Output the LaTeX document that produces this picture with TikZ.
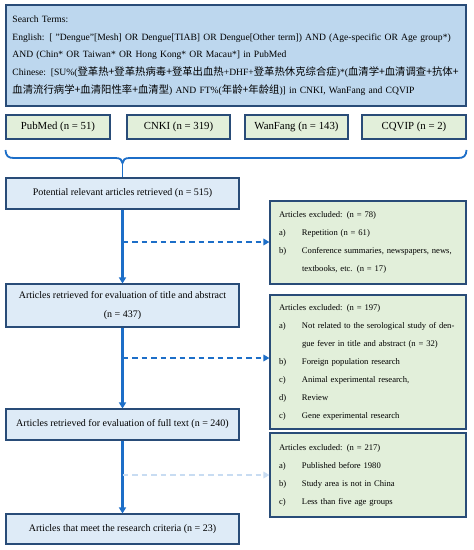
\documentclass[tikz,border=0pt]{standalone}
\usepackage{fontspec}
\setmainfont{Liberation Serif}
\newfontfamily\cjkfont[Scale=1.08]{Noto Sans CJK SC}
\newcommand{\zhtext}[1]{{\cjkfont #1}}
\usetikzlibrary{arrows.meta,calc}
\definecolor{bordc}{RGB}{41,76,120}
\definecolor{searchfill}{RGB}{189,215,238}
\definecolor{mainfill}{RGB}{222,235,247}
\definecolor{greenfill}{RGB}{226,239,218}
\definecolor{arrc}{RGB}{28,110,200}
\definecolor{lightarrc}{RGB}{200,220,242}
\tikzset{
  box/.style={draw=bordc, line width=1.1pt, rectangle, inner sep=0pt},
  searchbox/.style={box, fill=searchfill, align=left, text width=447pt, font=\fontsize{9.6}{17.7}\selectfont},
  srcbox/.style={box, fill=greenfill, minimum height=24pt, font=\fontsize{10.8}{12}\selectfont},
  mainbox/.style={box, fill=mainfill, minimum width=233pt, align=center, font=\fontsize{10}{19}\selectfont},
  exclbox/.style={box, fill=greenfill, minimum width=196pt, align=left, text width=178pt, font=\fontsize{8.6}{18}\selectfont},
  arr/.style={draw=arrc, line width=2.1pt, -{Triangle[length=6pt,width=7pt]}},
  darr/.style={draw=arrc, line width=1.6pt, dash pattern=on 5.5pt off 4pt, -{Triangle[length=6pt,width=6.5pt]}},
  larr/.style={draw=lightarrc, line width=1.6pt, dash pattern=on 5.5pt off 4pt, -{Triangle[length=6pt,width=6.5pt]}},
  brace/.style={draw=arrc, line width=1.8pt},
}
\newcommand{\itm}[2]{\makebox[23pt][l]{#1}#2}
\newcommand{\itc}[1]{\hspace*{23pt}#1}
\begin{document}
\begin{tikzpicture}[x=1pt,y=-1pt]
\useasboundingbox (0,0) rectangle (474,550);
\fill[white] (0,0) rectangle (474,550);
% search terms
\node[searchbox, minimum width=460pt, minimum height=101pt, inner xsep=6.5pt] (search) at (236,55.5) {%
Search Terms:\\
English: [ "Dengue"[Mesh] OR Dengue[TIAB] OR Dengue[Other term]) AND (Age-specific OR Age group*)\\
AND (Chin* OR Taiwan* OR Hong Kong* OR Macau*] in PubMed\\
Chinese: [SU\%(\zhtext{登革热+登革热病毒+登革出血热}+DHF+\zhtext{登革热休克综合症})*(\zhtext{血清学+血清调查+抗体+}\\
\zhtext{血清流行病学+血清阳性率+血清型}) AND FT\%(\zhtext{年龄+年龄组})] in CNKI, WanFang and CQVIP};
% sources
\node[srcbox, minimum width=104pt] (pubmed) at (58,127) {PubMed (n = 51)};
\node[srcbox, minimum width=103pt] (cnki) at (178.5,127) {CNKI (n = 319)};
\node[srcbox, minimum width=103pt] (wanfang) at (296.5,127) {WanFang (n = 143)};
\node[srcbox, minimum width=104pt] (cqvip) at (414,127) {CQVIP (n = 2)};
% main flow
\node[mainbox, minimum height=31pt] (pot) at (122.5,193.5) {Potential relevant articles retrieved (n = 515)};
\node[mainbox, minimum height=43pt] (title) at (122.5,305.5) {Articles retrieved for evaluation of title and abstract\\(n = 437)};
\node[mainbox, minimum height=31pt] (full) at (122.5,424.5) {Articles retrieved for evaluation of full text (n = 240)};
\node[mainbox, minimum height=30pt] (meet) at (122.5,529) {Articles that meet the research criteria (n = 23)};
% excluded
\node[exclbox, minimum height=83pt] (ex1) at (368,242.5) {%
Articles excluded: (n = 78)\\
\itm{a)}{Repetition (n = 61)}\\
\itm{b)}{Conference summaries, newspapers, news,}\\
\itc{textbooks, etc. (n = 17)}};
\node[exclbox, minimum height=134pt] (ex2) at (368,362) {%
Articles excluded: (n = 197)\\
\itm{a)}{Not related to the serological study of den-}\\
\itc{gue fever in title and abstract (n = 32)}\\
\itm{b)}{Foreign population research}\\
\itm{c)}{Animal experimental research,}\\
\itm{d)}{Review}\\
\itm{c)}{Gene experimental research}};
\node[exclbox, minimum height=84pt] (ex3) at (368,475) {%
Articles excluded: (n = 217)\\
\itm{a)}{Published before 1980}\\
\itm{b)}{Study area is not in China}\\
\itm{c)}{Less than five age groups}};
% brace from sources to potential
\coordinate (btip) at (pot.north |- 0,163);
\draw[brace] (pubmed.south west |- 0,150) .. controls (6,156) and (8,158) .. (14,158) -- ($(btip)+(-7,-5)$) .. controls ($(btip)+(-2,-5)$) and ($(btip)+(-0.5,-3)$) .. (btip) .. controls ($(btip)+(0.5,-3)$) and ($(btip)+(2,-5)$) .. ($(btip)+(7,-5)$) -- (458,158) .. controls (464,158) and (466,156) .. (cqvip.south east |- 0,150);
\draw[brace] (btip) -- (pot.north);
% arrows
\draw[arr] (pot.south) -- (title.north);
\draw[arr] (title.south) -- (full.north);
\draw[arr] (full.south) -- (meet.north);
\coordinate (d1) at (pot.south |- 0,242);
\coordinate (d2) at (pot.south |- 0,358);
\coordinate (d3) at (pot.south |- 0,475);
\draw[darr] (d1) -- (d1 -| ex1.west);
\draw[darr] (d2) -- (d2 -| ex2.west);
\draw[larr] (d3) -- (d3 -| ex3.west);
\end{tikzpicture}
\end{document}
